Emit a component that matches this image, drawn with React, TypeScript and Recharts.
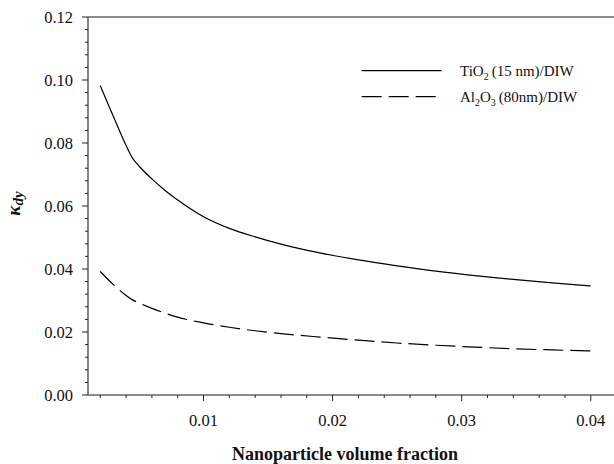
import React from "react";
import { LineChart, Line, XAxis, YAxis, Legend, ReferenceLine } from "recharts";

const FONT = "Liberation Serif";

const xValues = [0.002, 0.003, 0.004, 0.0045, 0.005, 0.006, 0.007, 0.008, 0.01, 0.012, 0.014, 0.016, 0.019, 0.022, 0.025, 0.028, 0.031, 0.034, 0.037, 0.04];
const tio2Values = [0.0982, 0.0886, 0.0792, 0.0752, 0.0727, 0.0686, 0.065, 0.0619, 0.0566, 0.0529, 0.0502, 0.0479, 0.0451, 0.0429, 0.041, 0.0393, 0.0379, 0.0367, 0.0356, 0.0346];
const al2o3Values = [0.0392, 0.0351, 0.0316, 0.0302, 0.0292, 0.0275, 0.026, 0.0247, 0.0229, 0.0215, 0.0204, 0.0195, 0.0184, 0.0174, 0.0165, 0.0158, 0.0152, 0.0147, 0.0143, 0.014];

const xMajorTicks = [0.01, 0.02, 0.03, 0.04];
const xAllTicks = [0.002, 0.004, 0.006, 0.008, 0.01, 0.012, 0.014, 0.016, 0.018, 0.02, 0.022, 0.024, 0.026, 0.028, 0.03, 0.032, 0.034, 0.036, 0.038, 0.04];
const yMajorTicks = [0, 0.02, 0.04, 0.06, 0.08, 0.1, 0.12];
const yAllTicks = [0, 0.004, 0.008, 0.012, 0.016, 0.02, 0.024, 0.028, 0.032, 0.036, 0.04, 0.044, 0.048, 0.052, 0.056, 0.06, 0.064, 0.068, 0.072, 0.076, 0.08, 0.084, 0.088, 0.092, 0.096, 0.1, 0.104, 0.108, 0.112, 0.116, 0.12];

const seriesNames = ["TiO2 (15 nm)/DIW", "Al2O3 (80nm)/DIW"];

const data = xValues.map((x, i) => ({ x, tio2: tio2Values[i], al2o3: al2o3Values[i] }));

const isMajor = (v: number, majors: number[]) => majors.some((m) => Math.abs(m - v) < 1e-9);

const textStyle = { fontFamily: FONT, fontSize: 16.5, fill: "#111" };

const XTick = (props: any) => {
  const { x, y, payload } = props;
  const major = isMajor(payload.value, xMajorTicks);
  return (
    <g>
      <line x1={x} x2={x} y1={y} y2={y + (major ? 6 : 3)} stroke="#222" strokeWidth={1} />
      {major && (
        <text x={x} y={y + 31} textAnchor="middle" style={textStyle}>
          {payload.value.toFixed(2)}
        </text>
      )}
    </g>
  );
};

const YTick = (props: any) => {
  const { x, y, payload } = props;
  const major = isMajor(payload.value, yMajorTicks);
  return (
    <g>
      <line x1={x} x2={x - (major ? 6 : 3)} y1={y} y2={y} stroke="#222" strokeWidth={1} />
      {major && (
        <text x={73} y={y + 6} textAnchor="end" style={textStyle}>
          {payload.value.toFixed(2)}
        </text>
      )}
    </g>
  );
};

const legendText = { fontFamily: FONT, fontSize: 15, fill: "#111" };

const LegendContent = () => (
  <svg width={250} height={52} style={{ display: "block" }}>
    <line x1={6.7} x2={86.7} y1={12.7} y2={12.7} stroke="#000" strokeWidth={1.2} />
    <text x={105} y={17.7} style={legendText}>
      <tspan>TiO</tspan>
      <tspan style={{ fontSize: 10 }} dy={4}>2</tspan>
      <tspan dy={-4} dx={3}>(15 nm)/DIW</tspan>
    </text>
    <line x1={6.7} x2={86.7} y1={38.7} y2={38.7} stroke="#000" strokeWidth={1.2} strokeDasharray="20 7" />
    <text x={105} y={43.7} style={legendText}>
      <tspan>Al</tspan>
      <tspan style={{ fontSize: 10 }} dy={4}>2</tspan>
      <tspan dy={-4}>O</tspan>
      <tspan style={{ fontSize: 10 }} dy={4}>3</tspan>
      <tspan dy={-4} dx={3}>(80nm)/DIW</tspan>
    </text>
  </svg>
);

const YLabel = () => (
  <text
    transform="translate(20,203.5) rotate(-90)"
    textAnchor="middle"
    style={{ fontFamily: FONT, fontStyle: "italic", fontWeight: "bold", fontSize: 19, fill: "#111" }}
  >
    <tspan>κ</tspan>
    <tspan style={{ fontSize: 15 }} dy={3}>dy</tspan>
  </text>
);

const XLabel = (props: any) => {
  const { viewBox } = props;
  return (
    <text x={345} y={viewBox.y + 65} textAnchor="middle" style={{ fontFamily: FONT, fontWeight: "bold", fontSize: 18, fill: "#111" }}>
      Nanoparticle volume fraction
    </text>
  );
};

export default function App() {
  return (
    <div style={{ position: "fixed", left: 0, top: 0, width: 614, height: 464, overflow: "hidden", background: "#fff" }}>
      <LineChart width={614} height={464} data={data} margin={{ top: 17, right: 0, bottom: 0, left: 0 }}>
        <XAxis
          dataKey="x"
          type="number"
          domain={[0.00105, 0.0418]}
          ticks={xAllTicks}
          interval={0}
          tickSize={0}
          tickMargin={0}
          tickLine={false}
          tick={<XTick />}
          height={69}
          axisLine={{ stroke: "#666", strokeWidth: 1.6 }}
          allowDataOverflow
          label={<XLabel />}
        />
        <YAxis
          type="number"
          domain={[0, 0.12]}
          ticks={yAllTicks}
          interval={0}
          tickSize={0}
          tickMargin={0}
          tickLine={false}
          tick={<YTick />}
          width={88}
          axisLine={{ stroke: "#666", strokeWidth: 1.6 }}
          allowDataOverflow
          label={<YLabel />}
        />
        <ReferenceLine y={0.12} stroke="#666" strokeWidth={1.6} />
        <Legend
          layout="horizontal"
          verticalAlign="middle"
          align="center"
          content={<LegendContent />}
          wrapperStyle={{ left: 355, top: 58, width: 250, height: 52 }}
        />
        <Line
          name={seriesNames[0]}
          dataKey="tio2"
          type="monotone"
          stroke="#000"
          strokeWidth={1.2}
          dot={false}
          isAnimationActive={false}
        />
        <Line
          name={seriesNames[1]}
          dataKey="al2o3"
          type="monotone"
          stroke="#000"
          strokeWidth={1.2}
          strokeDasharray="20 7"
          dot={false}
          isAnimationActive={false}
        />
      </LineChart>
    </div>
  );
}
